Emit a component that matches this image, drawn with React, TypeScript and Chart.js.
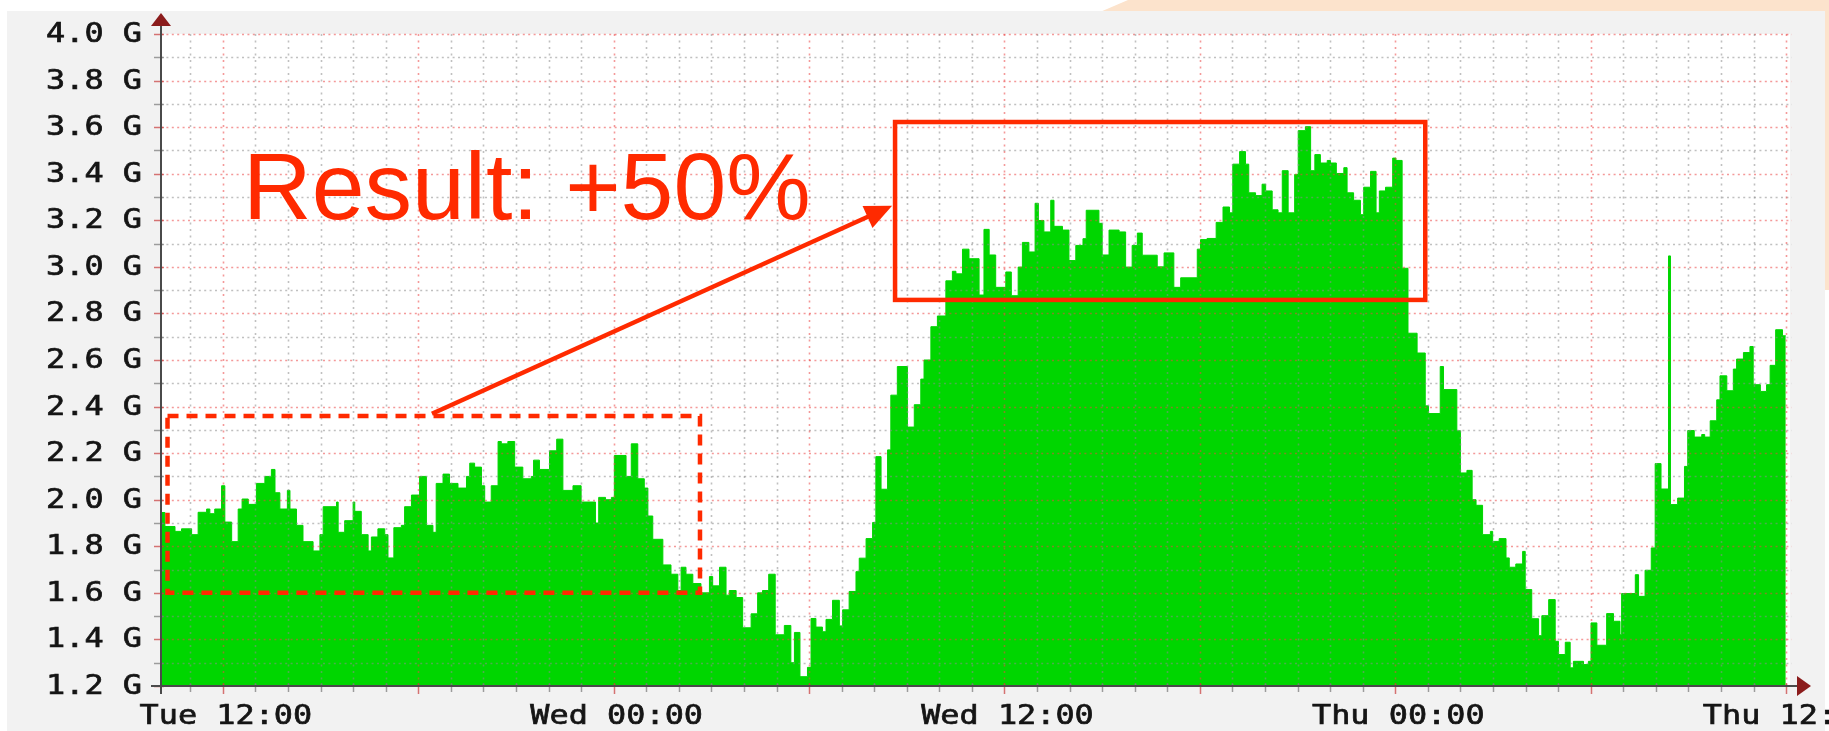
import { useEffect, useRef } from 'react';
import { Chart, registerables } from 'chart.js';

Chart.register(...registerables);

// ---- data: hours since Tue 12:00, traffic in G (each value holds until the next sample) ----
const sampleHours = [
  -1.9, -1.78, -1.47, -1.27, -0.96, -0.76, -0.5, -0.4, -0.25, -0.04,
  0.06, 0.27, 0.47, 0.59, 0.78, 1.03, 1.29, 1.49, 1.6, 1.75,
  1.98, 2.06, 2.26, 2.46, 2.77, 2.98, 3.08, 3.49, 3.54, 3.74,
  4.0, 4.05, 4.25, 4.46, 4.56, 4.76, 4.97, 5.07, 5.25, 5.48,
  5.58, 5.79, 6.04, 6.25, 6.45, 6.55, 6.76, 6.96, 7.22, 7.48,
  7.58, 7.73, 7.94, 8.04, 8.24, 8.45, 8.55, 8.75, 8.96, 9.21,
  9.47, 9.54, 9.72, 10.03, 10.25, 10.44, 10.75, 11.0, 11.44, 11.54,
  11.75, 11.93, 12.02, 12.38, 12.54, 12.74, 12.94, 13.05, 13.2, 13.51,
  13.76, 13.97, 14.07, 14.22, 14.43, 14.68, 14.94, 15.04, 15.25, 15.45,
  15.55, 15.76, 15.96, 16.22, 16.42, 16.57, 16.76, 16.96, 17.24, 17.44,
  17.55, 17.72, 17.95, 18.06, 18.21, 18.41, 18.52, 18.72, 18.93, 19.03,
  19.23, 19.44, 19.54, 19.75, 19.95, 20.05, 20.21, 20.41, 20.51, 20.71,
  21.02, 21.23, 21.43, 21.53, 21.74, 21.94, 22.2, 22.4, 22.51, 22.71,
  22.91, 23.22, 23.37, 23.53, 23.73, 24.04, 24.21, 24.42, 24.55, 24.75,
  24.94, 25.04, 25.21, 25.42, 25.52, 25.78, 25.98, 26.19, 26.41, 26.51,
  26.9, 27.0, 27.21, 27.52, 27.72, 27.92, 28.08, 28.23, 28.69, 28.9,
  29.2, 29.41, 29.92, 30.02, 30.22, 30.5, 30.71, 30.91, 31.01, 31.22,
  31.4, 31.5, 31.71, 31.91, 32.02, 32.22, 32.4, 32.53, 32.71, 32.91,
  33.02, 33.24, 33.4, 33.53, 33.7, 33.91, 34.01, 34.19, 34.42, 34.52,
  34.72, 34.93, 35.03, 35.24, 35.41, 35.51, 35.7, 35.92, 36.02, 36.21,
  36.39, 36.67, 36.92, 37.02, 37.38, 37.48, 37.89, 38.0, 38.2, 38.36,
  38.48, 38.68, 38.92, 38.99, 39.19, 39.4, 39.5, 39.7, 39.91, 39.99,
  40.19, 40.4, 40.5, 40.71, 40.91, 41.01, 41.22, 41.37, 41.47, 41.78,
  41.93, 42.01, 42.19, 42.49, 42.7, 42.9, 42.95, 43.37, 43.47, 43.67,
  43.86, 43.98, 44.16, 44.39, 44.45, 44.67, 44.88, 44.98, 45.18, 45.41,
  45.5, 45.67, 45.87, 45.97, 46.18, 46.38, 46.48, 46.69, 46.89, 46.99,
  47.21, 47.4, 47.51, 47.68, 47.89, 47.99,
];

const trafficG = [
  1.945, 1.885, 1.864, 1.875, 1.85, 1.946, 1.96, 1.94, 1.96, 2.06,
  1.904, 1.82, 1.96, 2.003, 1.98, 2.07, 2.1, 2.13, 2.03, 1.96,
  2.04, 1.96, 1.89, 1.82, 1.78, 1.85, 1.97, 1.99, 1.86, 1.91,
  1.99, 1.95, 1.85, 1.78, 1.84, 1.875, 1.85, 1.75, 1.88, 1.89,
  1.97, 2.02, 2.1, 1.89, 1.86, 2.07, 2.11, 2.07, 2.05, 2.1,
  2.157, 2.14, 2.06, 1.99, 2.06, 2.25, 2.24, 2.25, 2.14, 2.09,
  2.1, 2.17, 2.13, 2.21, 2.26, 2.04, 2.06, 1.99, 1.9, 2.01,
  2.0, 2.01, 2.19, 2.1, 2.24, 2.09, 2.05, 1.93, 1.83, 1.72,
  1.68, 1.61, 1.71, 1.68, 1.64, 1.6, 1.67, 1.63, 1.71, 1.59,
  1.61, 1.58, 1.45, 1.51, 1.6, 1.61, 1.68, 1.42, 1.46, 1.3,
  1.43, 1.24, 1.28, 1.49, 1.453, 1.433, 1.486, 1.568, 1.458, 1.527,
  1.606, 1.691, 1.749, 1.833, 1.902, 2.185, 2.045, 2.214, 2.449, 2.572,
  2.312, 2.408, 2.518, 2.6, 2.743, 2.789, 2.94, 2.981, 2.97, 3.076,
  3.035, 2.879, 3.161, 3.051, 2.912, 2.978, 2.876, 2.999, 3.105, 3.064,
  3.273, 3.199, 3.15, 3.286, 3.174, 3.158, 3.027, 3.092, 3.121, 3.243,
  3.187, 3.051, 3.158, 3.15, 2.999, 3.092, 3.145, 3.05, 3.0, 3.06,
  2.912, 2.953, 3.076, 3.117, 3.122, 3.191, 3.257, 3.232, 3.441, 3.495,
  3.441, 3.318, 3.306, 3.355, 3.326, 3.245, 3.232, 3.413, 3.232, 3.397,
  3.585, 3.602, 3.413, 3.482, 3.446, 3.457, 3.446, 3.401, 3.426, 3.318,
  3.286, 3.224, 3.342, 3.41, 3.232, 3.326, 3.342, 3.467, 3.457, 2.994,
  2.715, 2.63, 2.403, 2.37, 2.572, 2.473, 2.296, 2.115, 2.126, 2.0,
  1.976, 1.85, 1.864, 1.821, 1.833, 1.75, 1.71, 1.724, 1.778, 1.614,
  1.489, 1.416, 1.502, 1.571, 1.392, 1.335, 1.388, 1.278, 1.306, 1.292,
  1.306, 1.471, 1.375, 1.511, 1.478, 1.42, 1.597, 1.678, 1.585, 1.697,
  1.793, 2.155, 2.046, 3.047, 1.979, 2.007, 2.143, 2.297, 2.269, 2.28,
  2.269, 2.339, 2.429, 2.532, 2.468, 2.561, 2.604, 2.632, 2.658, 2.494,
  2.465, 2.494, 2.577, 2.73, 2.704, 2.704,
];

const yTickValues = [4.0, 3.8, 3.6, 3.4, 3.2, 3.0, 2.8, 2.6, 2.4, 2.2, 2.0, 1.8, 1.6, 1.4, 1.2];
const yTickLabels = ['4.0 G', '3.8 G', '3.6 G', '3.4 G', '3.2 G', '3.0 G', '2.8 G', '2.6 G', '2.4 G', '2.2 G', '2.0 G', '1.8 G', '1.6 G', '1.4 G', '1.2 G'];
const xTickHours = [0, 12, 24, 36, 48];
const xTickLabels = ['Tue 12:00', 'Wed 00:00', 'Wed 12:00', 'Thu 00:00', 'Thu 12:00'];

const calloutText = 'Result: +50%';
const calloutAt = { h: 0.62, v: 3.206 };
const beforeBox = { h0: -1.7, h1: 14.65, v0: 1.6, v1: 2.36 };
const afterBox = { h0: 20.64, h1: 36.92, v0: 2.858, v1: 3.622 };
const arrowFrom = { h: 6.42, v: 2.369 };
const arrowTo = { h: 20.55, v: 3.262 };

const W = 1829;
const H = 731;
const RED = '#ff2a00';
const GREEN = '#00d600';

const backdrop = {
  id: 'backdrop',
  beforeDraw(chart: any) {
    const { ctx, chartArea: a } = chart;
    ctx.save();
    ctx.fillStyle = '#ffffff';
    ctx.fillRect(0, 0, W, H);
    ctx.fillStyle = '#fce3cc';
    ctx.beginPath();
    ctx.moveTo(1100, 12);
    ctx.lineTo(1128, 0);
    ctx.lineTo(W, 0);
    ctx.lineTo(W, 290);
    ctx.lineTo(1825, 290);
    ctx.lineTo(1825, 12);
    ctx.closePath();
    ctx.fill();
    ctx.fillStyle = '#f2f2f2';
    ctx.fillRect(7, 11, 1818, H - 11);
    ctx.fillStyle = '#ffffff';
    ctx.fillRect(a.left, a.top, a.right - a.left, a.bottom - a.top);
    ctx.restore();
  },
};

function stretchedText(ctx: CanvasRenderingContext2D, text: string, x: number, y: number, align: CanvasTextAlign) {
  ctx.save();
  ctx.translate(x, y);
  ctx.scale(1.18, 1);
  ctx.textAlign = align;
  ctx.textBaseline = 'middle';
  ctx.fillText(text, 0, 0);
  ctx.lineWidth = 0.7;
  ctx.strokeText(text, 0, 0);
  ctx.restore();
}

const overlay = {
  id: 'overlay',
  afterDatasetsDraw(chart: any) {
    const { ctx, chartArea: a } = chart;
    const xs = chart.scales.x;
    const ys = chart.scales.y;
    ctx.save();

    // horizontal grid
    ctx.lineWidth = 1.6;
    for (let k = 13; k <= 40; k++) {
      const y = Math.round(ys.getPixelForValue(k / 10)) + 0.5;
      const major = k % 2 === 0;
      ctx.strokeStyle = major ? 'rgba(235,70,70,0.55)' : 'rgba(140,140,140,0.55)';
      ctx.setLineDash([2, 3.4]);
      ctx.beginPath();
      ctx.moveTo(a.left, y);
      ctx.lineTo(a.right + 2, y);
      ctx.stroke();
    }
    // vertical grid
    for (let h = -1; h <= 48; h++) {
      const x = Math.round(xs.getPixelForValue(h)) + 0.5;
      const major = h % 6 === 0;
      ctx.strokeStyle = major ? 'rgba(235,70,70,0.55)' : 'rgba(140,140,140,0.55)';
      ctx.setLineDash([2, 4.5]);
      ctx.beginPath();
      ctx.moveTo(x, a.bottom);
      ctx.lineTo(x, a.top - 2);
      ctx.stroke();
    }
    ctx.setLineDash([]);

    // ticks
    ctx.lineWidth = 1.5;
    for (let k = 12; k <= 40; k++) {
      const y = Math.round(ys.getPixelForValue(k / 10)) + 0.5;
      ctx.strokeStyle = k % 2 === 0 ? 'rgba(200,60,60,0.7)' : 'rgba(120,120,120,0.7)';
      ctx.beginPath();
      ctx.moveTo(a.left - 7, y);
      ctx.lineTo(a.left + 3, y);
      ctx.stroke();
    }
    for (let h = -1; h <= 48; h++) {
      const x = Math.round(xs.getPixelForValue(h)) + 0.5;
      ctx.strokeStyle = h % 6 === 0 ? 'rgba(200,60,60,0.7)' : 'rgba(120,120,120,0.7)';
      ctx.beginPath();
      ctx.moveTo(x, a.bottom - 3);
      ctx.lineTo(x, a.bottom + (h % 6 === 0 ? 8 : 6));
      ctx.stroke();
    }

    // axes
    ctx.strokeStyle = '#4a4a4a';
    ctx.lineWidth = 2;
    ctx.beginPath();
    ctx.moveTo(a.left, a.bottom + 8);
    ctx.lineTo(a.left, a.top - 12);
    ctx.moveTo(a.left - 10, a.bottom);
    ctx.lineTo(a.right + 10, a.bottom);
    ctx.stroke();
    ctx.fillStyle = '#8b1c1c';
    ctx.beginPath();
    ctx.moveTo(a.left, a.top - 21);
    ctx.lineTo(a.left - 10, a.top - 8);
    ctx.lineTo(a.left + 10, a.top - 8);
    ctx.closePath();
    ctx.fill();
    ctx.beginPath();
    ctx.moveTo(a.right + 21, a.bottom);
    ctx.lineTo(a.right + 7, a.bottom - 10);
    ctx.lineTo(a.right + 7, a.bottom + 10);
    ctx.closePath();
    ctx.fill();

    // tick labels
    ctx.fillStyle = '#151515';
    ctx.strokeStyle = '#151515';
    ctx.font = '27px "DejaVu Sans Mono", monospace';
    yTickValues.forEach((v, i) => {
      stretchedText(ctx, yTickLabels[i], 142, ys.getPixelForValue(v) + 1, 'right');
    });
    xTickHours.forEach((h, i) => {
      stretchedText(ctx, xTickLabels[i], xs.getPixelForValue(h) + 3, 717, 'center');
    });

    // annotations
    ctx.strokeStyle = RED;
    ctx.fillStyle = RED;
    ctx.lineWidth = 4.5;
    ctx.setLineDash([11, 8]);
    const bx0 = xs.getPixelForValue(beforeBox.h0);
    const bx1 = xs.getPixelForValue(beforeBox.h1);
    const by0 = ys.getPixelForValue(beforeBox.v1);
    const by1 = ys.getPixelForValue(beforeBox.v0);
    ctx.strokeRect(bx0, by0, bx1 - bx0, by1 - by0);
    ctx.setLineDash([]);
    const ax0 = xs.getPixelForValue(afterBox.h0);
    const ax1 = xs.getPixelForValue(afterBox.h1);
    const ay0 = ys.getPixelForValue(afterBox.v1);
    const ay1 = ys.getPixelForValue(afterBox.v0);
    ctx.strokeRect(ax0, ay0, ax1 - ax0, ay1 - ay0);

    const sx = xs.getPixelForValue(arrowFrom.h);
    const sy = ys.getPixelForValue(arrowFrom.v);
    const tx = xs.getPixelForValue(arrowTo.h);
    const ty = ys.getPixelForValue(arrowTo.v);
    const ang = Math.atan2(ty - sy, tx - sx);
    const headLen = 27;
    const headHalf = 12;
    ctx.beginPath();
    ctx.moveTo(sx, sy);
    ctx.lineTo(tx - Math.cos(ang) * (headLen - 4), ty - Math.sin(ang) * (headLen - 4));
    ctx.stroke();
    const bxh = tx - Math.cos(ang) * headLen;
    const byh = ty - Math.sin(ang) * headLen;
    ctx.beginPath();
    ctx.moveTo(tx, ty);
    ctx.lineTo(bxh + Math.sin(ang) * headHalf, byh - Math.cos(ang) * headHalf);
    ctx.lineTo(bxh - Math.sin(ang) * headHalf, byh + Math.cos(ang) * headHalf);
    ctx.closePath();
    ctx.fill();

    ctx.font = '95px "Liberation Sans", Arial, sans-serif';
    ctx.textAlign = 'left';
    ctx.textBaseline = 'alphabetic';
    ctx.fillText(calloutText, xs.getPixelForValue(calloutAt.h), ys.getPixelForValue(calloutAt.v));

    ctx.restore();
  },
};

export default function App() {
  const canvasRef = useRef<HTMLCanvasElement | null>(null);

  useEffect(() => {
    if (!canvasRef.current) return;
    const points = sampleHours.map((h, i) => ({ x: h, y: trafficG[i] }));
    const chart = new Chart(canvasRef.current, {
      type: 'line',
      data: {
        datasets: [
          {
            label: 'Traffic',
            data: points,
            stepped: true,
            fill: 'start',
            backgroundColor: GREEN,
            borderColor: GREEN,
            borderWidth: 1,
            pointRadius: 0,
            tension: 0,
          },
        ],
      },
      options: {
        animation: false,
        responsive: false,
        maintainAspectRatio: false,
        devicePixelRatio: 1,
        layout: { padding: { left: 161, right: 39, top: 34, bottom: 45 } },
        scales: {
          x: { type: 'linear', min: -1.9, max: 48.12, display: false },
          y: { type: 'linear', min: 1.2, max: 4.0, display: false },
        },
        plugins: {
          legend: { display: false },
          tooltip: { enabled: false },
        },
      },
      plugins: [backdrop, overlay],
    });
    return () => chart.destroy();
  }, []);

  return (
    <div style={{ position: 'fixed', left: 0, top: 0, width: W, height: H, overflow: 'hidden' }}>
      <canvas ref={canvasRef} width={W} height={H} style={{ display: 'block', width: W, height: H }} />
    </div>
  );
}
